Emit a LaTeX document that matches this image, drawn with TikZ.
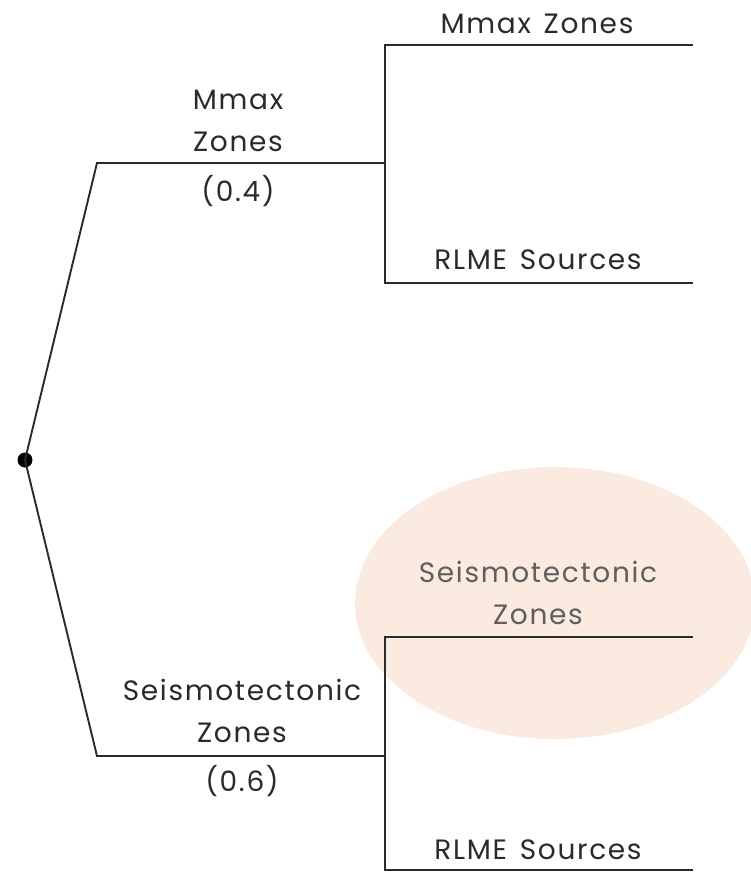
\documentclass[tikz,border=0pt]{standalone}
\usepackage{fontspec}
\setmainfont{Poppins}[LetterSpace=6,WordSpace=1.4]
\usepackage{tikz}
\usetikzlibrary{calc,positioning}
\definecolor{peach}{HTML}{FBEADF}
\definecolor{ink}{HTML}{2A2A2A}
\tikzset{
  branch/.style={draw=ink, line width=1.9pt},
  rootdot/.style={circle, fill=black, inner sep=0pt, minimum size=15pt},
  lbl/.style={text=ink, font=\fontsize{28}{42}\selectfont, align=center, inner sep=0pt},
  faded/.style={lbl, text=ink!75},
  hilite/.style={fill=peach, draw=none}
}
\begin{document}
\begin{tikzpicture}[x=1pt,y=-1pt]
  \useasboundingbox (0,0) rectangle (750,872);
  % highlighted ellipse behind the lower branch
  \fill[hilite] (555,603) ellipse [x radius=200, y radius=136];
  % tree points
  \node[rootdot] (root) at (25,460) {};
  \coordinate (mz) at (97,163);
  \coordinate (mzend) at (385,163);
  \coordinate (sz) at (97,756);
  \coordinate (szend) at (385,756);
  \coordinate (mzA) at (385,45);
  \coordinate (mzA2) at (693,45);
  \coordinate (mzB) at (385,283);
  \coordinate (mzB2) at (693,283);
  \coordinate (szA) at (385,637);
  \coordinate (szA2) at (693,637);
  \coordinate (szB) at (385,870);
  \coordinate (szB2) at (693,870);
  % branches
  \draw[branch] (root.center) -- (mz) -- (mzend);
  \draw[branch] (root.center) -- (sz) -- (szend);
  \draw[branch] (mzA2) -- (mzA) -- (mzB) -- (mzB2);
  \draw[branch] (szA2) -- (szA) -- (szB) -- (szB2);
  % labels
  \node[lbl] (mzlab) at (238,121) {Mmax\\Zones};
  \node[lbl] (mzw) at (238,191) {(0.4)};
  \node[lbl] (szlab) at (242,711) {Seismotectonic\\Zones};
  \node[lbl] (szw) at (242,781) {(0.6)};
  \node[lbl] (ua) at (537,24) {Mmax Zones};
  \node[lbl] (ub) at (538,260) {RLME Sources};
  \node[faded] (la) at (538,593) {Seismotectonic\\Zones};
  \node[lbl] (lb) at (538,850) {RLME Sources};
\end{tikzpicture}
\end{document}
